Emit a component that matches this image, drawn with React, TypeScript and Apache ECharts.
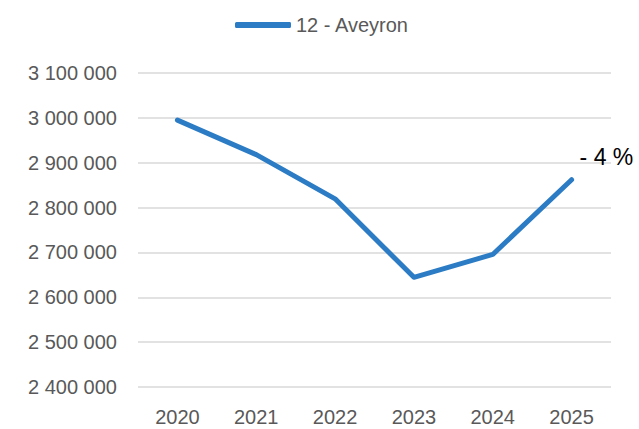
import React, { useEffect, useRef } from "react";
import * as echarts from "echarts";

const years = ["2020", "2021", "2022", "2023", "2024", "2025"];
const aveyron = [2995000, 2918000, 2819500, 2644500, 2695500, 2862000];
const seriesName = "12 - Aveyron";
const changeLabel = "- 4 %";

export default function App() {
  const ref = useRef<HTMLDivElement>(null);
  useEffect(() => {
    if (!ref.current) return;
    const chart = echarts.init(ref.current, undefined, { renderer: "svg" });
    const font = "'Liberation Sans', Arial, sans-serif";
    chart.setOption({
      animation: false,
      backgroundColor: "#ffffff",
      textStyle: { fontFamily: font },
      legend: {
        top: 10,
        left: 230,
        data: [{ name: seriesName, icon: "roundRect" }],
        itemWidth: 56,
        itemHeight: 6,
        itemGap: 5,
        itemStyle: { color: "#2b7cc4", opacity: 1 },
        textStyle: { color: "#595959", fontSize: 20, fontFamily: font },
      },
      grid: { left: 138, right: 28, top: 73, bottom: 42, containLabel: false },
      xAxis: {
        type: "category",
        data: years,
        boundaryGap: true,
        axisLine: { show: false },
        axisTick: { show: false },
        axisLabel: { color: "#595959", fontSize: 20, margin: 20, fontFamily: font },
      },
      yAxis: {
        type: "value",
        min: 2400000,
        max: 3100000,
        interval: 100000,
        axisLine: { show: false },
        axisTick: { show: false },
        splitLine: { lineStyle: { color: "#d9d9d9", width: 1.5 } },
        axisLabel: {
          color: "#595959",
          fontSize: 20,
          margin: 21,
          fontFamily: font,
          formatter: (v: number) =>
            String(Math.round(v)).replace(/\B(?=(\d{3})+(?!\d))/g, " "),
        },
      },
      series: [
        {
          name: seriesName,
          type: "line",
          data: aveyron,
          symbol: "none",
          itemStyle: { color: "#2b7cc4" },
          lineStyle: { color: "#2b7cc4", width: 5, cap: "round", join: "round" },
          color: "#2b7cc4",
          endLabel: {
            show: true,
            formatter: changeLabel,
            color: "#000000",
            fontSize: 23,
            fontFamily: font,
            distance: 5,
            offset: [3, -23],
          },
        },
      ],
    });
    return () => chart.dispose();
  }, []);
  return <div ref={ref} style={{ width: 639, height: 429, position: "absolute", left: 0, top: 0 }} />;
}
